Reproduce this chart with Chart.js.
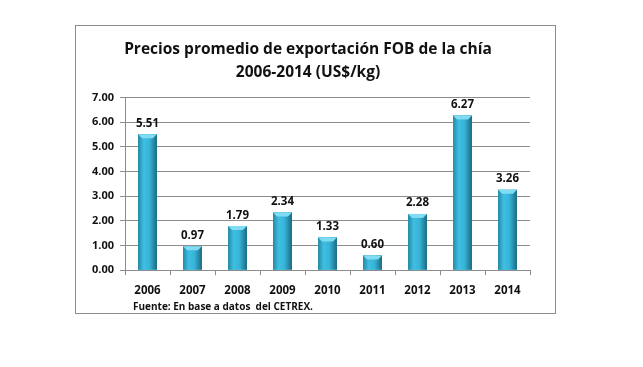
<!DOCTYPE html>
<html>
<head>
<meta charset="utf-8">
<script src="https://cdn.jsdelivr.net/npm/chart.js@4/dist/chart.umd.min.js"></script>
<style>
  body { margin: 0; background: #fff; }
  #box { position: absolute; left: 75px; top: 25px; width: 479px; height: 287px; border: 1px solid #8c8c8c; }
</style>
</head>
<body>
<div id="box"><canvas id="myChart"></canvas></div>
<script>
var years = ["2006", "2007", "2008", "2009", "2010", "2011", "2012", "2013", "2014"];
var prices = [5.51, 0.97, 1.79, 2.34, 1.33, 0.60, 2.28, 6.27, 3.26];
var yTicks = [0, 1, 2, 3, 4, 5, 6, 7];

var fontFam = "'Open Sans', 'DejaVu Sans', sans-serif";

// shading + bevel + value labels, drawn over the bars the library placed
var extras = {
    id: 'extras',
    afterDatasetsDraw: function(chart) {
        var ctx = chart.ctx;
        var meta = chart.getDatasetMeta(0);
        ctx.save();
        meta.data.forEach(function(bar, i) {
            var w = bar.width, l = bar.x - w / 2, r = bar.x + w / 2, t = bar.y, b = bar.base;
            var g = ctx.createLinearGradient(l, 0, r, 0);
            g.addColorStop(0, '#2488a5');
            g.addColorStop(0.3, '#3fbfe2');
            g.addColorStop(0.6, '#37b4d8');
            g.addColorStop(1, '#1b6a82');
            ctx.fillStyle = g;
            ctx.fillRect(l, t, w, b - t);
            // lighter bevel on top
            ctx.fillStyle = '#7fdcf2';
            ctx.beginPath();
            ctx.moveTo(l, t);
            ctx.lineTo(r, t);
            ctx.lineTo(r - 4, t + 4);
            ctx.lineTo(l + 4, t + 4);
            ctx.closePath();
            ctx.fill();
            ctx.fillStyle = '#111';
            ctx.font = 'bold 11.5px ' + fontFam;
            ctx.textAlign = 'center';
            ctx.textBaseline = 'bottom';
            ctx.fillText(prices[i].toFixed(2), bar.x, t - 5);
        });
        ctx.font = 'bold 10px ' + fontFam;
        ctx.textAlign = 'left';
        ctx.textBaseline = 'middle';
        ctx.fillStyle = '#111';
        ctx.fillText('Fuente: En base a datos  del CETREX.', 57, 281);
        ctx.restore();
    }
};

var ctx = document.getElementById('myChart').getContext('2d');
var chart = new Chart(ctx, {
    type: 'bar',
    data: {
        labels: years,
        datasets: [{
            data: prices,
            backgroundColor: '#35b0d2',
            borderWidth: 0,
            barPercentage: 0.42,
            categoryPercentage: 1
        }]
    },
    options: {
        responsive: true,
        maintainAspectRatio: false,
        animation: false,
        layout: { padding: { left: 10, right: 25, top: 2, bottom: 6 } },
        plugins: {
            legend: { display: false },
            tooltip: { enabled: false },
            title: {
                display: true,
                text: ['Precios promedio de exportación FOB de la chía', '2006-2014 (US$/kg)'],
                color: '#111',
                font: { family: fontFam, size: 15.5, weight: 'bold', lineHeight: 1.5 },
                padding: { top: 10, bottom: 13 }
            }
        },
        scales: {
            x: {
                grid: { drawOnChartArea: false, color: '#8c8c8c', tickLength: 5, offset: true },
                border: { color: '#8c8c8c' },
                ticks: { color: '#111', font: { family: fontFam, size: 11.5, weight: 'bold' }, padding: 9 }
            },
            y: {
                min: 0,
                max: 7,
                afterBuildTicks: function(axis) {
                    axis.ticks = yTicks.map(function(v) { return { value: v }; });
                },
                grid: { color: '#8c8c8c', tickLength: 5 },
                border: { color: '#8c8c8c' },
                ticks: {
                    color: '#111',
                    font: { family: fontFam, size: 11, weight: 'bold' },
                    padding: 6,
                    callback: function(v) { return Number(v).toFixed(2); }
                }
            }
        }
    },
    plugins: [extras]
});
</script>
</body>
</html>
